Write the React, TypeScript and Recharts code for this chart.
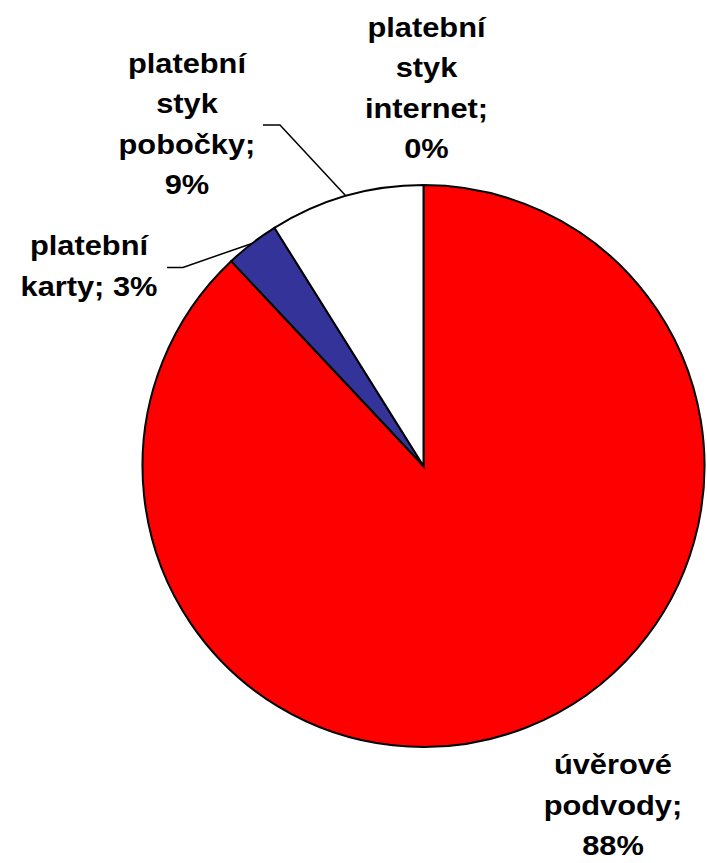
import React from "react";
import { PieChart, Pie, Cell } from "recharts";

const categories = [
  "úvěrové podvody",
  "platební karty",
  "platební styk pobočky",
  "platební styk internet",
];
const shares = [88.0, 3.1, 8.9, 0.0];
const sliceColors = ["#FF0000", "#333399", "#FFFFFF", "#FFFFFF"];

const data = categories.map((name, i) => ({ name, value: shares[i] }));

// where each label sits, relative to the slice mid point on the rim
const labelLayout: { dx: number; dy: number; leader: number[][] | null }[] = [
  { dx: 86, dy: 47, leader: null },
  { dx: -163, dy: 12, leader: [[0, 0], [-69, 24], [-85, 24]] },
  { dx: -159, dy: -123, leader: [[0, 0], [-66, -71], [-83, -71]] },
  { dx: 3, dy: -148, leader: null },
];

const RAD = Math.PI / 180;
const LINE_GAP = 40.5;

const wrap = (s: string, max = 9) => {
  const lines: string[] = [];
  let cur = "";
  s.split(" ").forEach((w) => {
    if (!cur) cur = w;
    else if ((cur + " " + w).length <= max) cur += " " + w;
    else {
      lines.push(cur);
      cur = w;
    }
  });
  if (cur) lines.push(cur);
  return lines;
};

const renderLabel = (props: any) => {
  const { cx, cy, midAngle, outerRadius, index, name, percent } = props;
  const ex = cx + outerRadius * Math.cos(-midAngle * RAD);
  const ey = cy + outerRadius * Math.sin(-midAngle * RAD);
  const lay = labelLayout[index];
  const lines = wrap(`${name}; ${Math.round(percent * 100)}%`);
  return (
    <g key={`lbl-${index}`}>
      {lay.leader && (
        <polyline
          points={lay.leader.map(([a, b]) => `${ex + a},${ey + b}`).join(" ")}
          fill="none"
          stroke="#000"
          strokeWidth={1.5}
        />
      )}
      <text
        transform={`translate(${ex + lay.dx},${ey + lay.dy}) scale(1.1,1)`}
        textAnchor="middle"
        fontFamily="'Liberation Sans', Arial, sans-serif"
        fontWeight="bold"
        fontSize={28}
        fill="#000"
      >
        {lines.map((l, i) => (
          <tspan key={i} x={0} y={i * LINE_GAP}>
            {l}
          </tspan>
        ))}
      </text>
    </g>
  );
};

const App: React.FC = () => {
  return (
    <div style={{ position: "absolute", left: 0, top: 0, width: 707, height: 863, background: "#fff" }}>
      <PieChart width={707} height={863} margin={{ top: 0, right: 0, bottom: 0, left: 0 }}>
        <Pie
          data={data}
          dataKey="value"
          nameKey="name"
          cx={423.5}
          cy={466}
          outerRadius={281}
          startAngle={90}
          endAngle={-270}
          stroke="#000"
          strokeWidth={2}
          label={renderLabel}
          labelLine={false}
          isAnimationActive={false}
        >
          {data.map((d, i) => (
            <Cell key={d.name} fill={sliceColors[i]} />
          ))}
        </Pie>
      </PieChart>
    </div>
  );
};

export default App;
